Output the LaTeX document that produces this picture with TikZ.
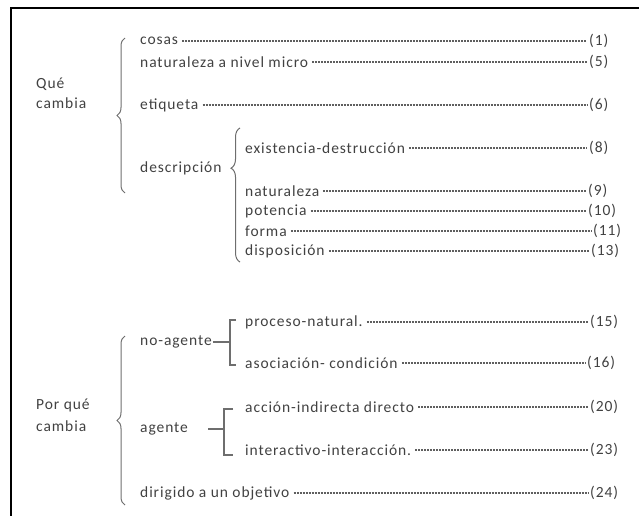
\documentclass[tikz,border=0pt]{standalone}
\usepackage{fontspec}
\setmainfont{Carlito}[LetterSpace=6]
\usetikzlibrary{decorations.pathreplacing}
\definecolor{txt}{RGB}{65,65,65}
\definecolor{ln}{RGB}{110,110,110}
\definecolor{dots}{RGB}{95,95,95}
\tikzset{
  lbl/.style={anchor=west,inner sep=0pt,text=txt,font=\fontsize{15.5}{18}\selectfont},
  num/.style={anchor=west,inner sep=0pt,text=txt,font=\fontsize{15.5}{18}\selectfont},
  lead/.style={draw=dots,line width=1.1pt,dash pattern=on 2pt off 1pt,shorten <=4pt,shorten >=2pt},
  brc/.style={draw=ln,line width=1pt,decorate,decoration={brace,amplitude=#1}},
  brk/.style={draw=ln,line width=1.1pt},
}
\begin{document}
\begin{tikzpicture}[x=1pt,y=-1pt]
\useasboundingbox (0,0) rectangle (639,516);
% frame
\draw[line width=2pt,black] (11,516) -- (11,8) -- (639,8);

% --- Qué cambia
\node[lbl] (que) at (36,84) {Qué};
\node[lbl] (cambia1) at (36,103) {cambia};
\draw[brc=8pt] (125,193) -- (125,38);

\node[lbl] (cosas) at (140,41) {cosas};
\node[num] (n1) at (589,41) {(1)};
\node[lbl] (micro) at (140,62) {naturaleza a nivel micro};
\node[num] (n5) at (589,62) {(5)};
\node[lbl] (etiq) at (140,105) {etiqueta};
\node[num] (n6) at (589,105) {(6)};
\node[lbl] (desc) at (140,168) {descripción};
\draw[brc=9pt,decoration={aspect=0.7}] (240,262) -- (240,128);

\node[lbl] (exist) at (245,148) {existencia-destrucción};
\node[num] (n8) at (589,148) {(8)};
\node[lbl] (nat) at (245,191) {naturaleza};
\node[num] (n9) at (588,191) {(9)};
\node[lbl] (pot) at (245,211) {potencia};
\node[num] (n10) at (588,211) {(10)};
\node[lbl] (forma) at (245,231) {forma};
\node[num] (n11) at (593,231) {(11)};
\node[lbl] (disp) at (245,251) {disposición};
\node[num] (n13) at (591,251) {(13)};

\foreach \a/\b in {cosas/n1,micro/n5,etiq/n6,exist/n8,nat/n9,pot/n10,forma/n11,disp/n13}
  \draw[lead] (\a.east) -- (\a.east -| \b.west);

% --- Por qué cambia
\node[lbl] (porque) at (36,405) {Por qué};
\node[lbl] (cambia2) at (36,426) {cambia};
\draw[brc=8pt] (125,505) -- (125,336);

\node[lbl] (noag) at (140,342) {no-agente};
\coordinate (b1t) at (236,320);
\coordinate (b1b) at (236,365);
\coordinate (b1m) at (230,342);
\draw[brk] (b1t) -- (b1t -| b1m) -- (b1b -| b1m) -- (b1b);
\draw[brk] ([xshift=1pt]noag.east) -- (b1m);

\node[lbl] (proc) at (245,322) {proceso-natural.};
\node[num] (n15) at (590,322) {(15)};
\node[lbl] (asoc) at (245,363) {asociación- condición};
\node[num] (n16) at (587,363) {(16)};

\node[lbl] (agente) at (140,429) {agente};
\coordinate (b2t) at (233,409);
\coordinate (b2b) at (233,455);
\coordinate (b2m) at (224,429);
\coordinate (b2s) at (208,429);
\draw[brk] (b2t) -- (b2t -| b2m) -- (b2b -| b2m) -- (b2b);
\draw[brk] (b2s) -- (b2m);

\node[lbl] (accion) at (245,407) {acción-indirecta directo};
\node[num] (n20) at (590,407) {(20)};
\node[lbl] (inter) at (245,450) {interactivo-interacción.};
\node[num] (n23) at (590,450) {(23)};
\node[lbl] (dirig) at (140,493) {dirigido a un objetivo};
\node[num] (n24) at (590,493) {(24)};

\foreach \a/\b in {proc/n15,asoc/n16,accion/n20,inter/n23,dirig/n24}
  \draw[lead] (\a.east) -- (\a.east -| \b.west);
\end{tikzpicture}
\end{document}
